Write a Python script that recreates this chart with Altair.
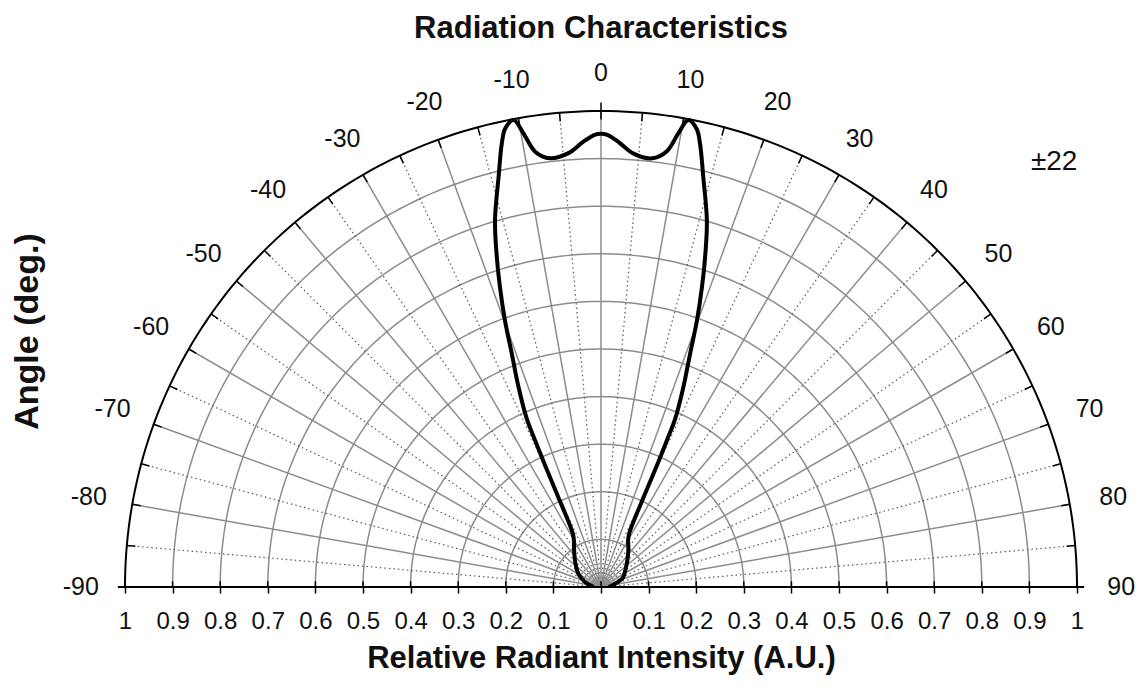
import altair as alt
import pandas as pd
import numpy as np

# ---------------- text ----------------
title_text = "Radiation Characteristics"
x_title = "Relative Radiant Intensity (A.U.)"
y_title = "Angle (deg.)"
note_text = "±22"

# ---------------- curve (angle in degrees, relative intensity) ----------------
curve_angle = [-90, -86, -80, -75.5, -67, -59, -51, -44, -36, -30, -27.7, -25.3, -24.7, -24.2,
               -23.8, -22.4, -20.9, -19.8, -18.6, -17.4, -16.1, -14.0, -12.6, -11.8, -10.6,
               -9.7, -8.6, -6.8, -4.3, -2.3, -0.8, 0,
               0.8, 2.3, 4.3, 6.8, 8.6, 9.7, 10.6, 11.8, 12.6, 14.0, 16.1, 17.4, 18.6, 19.8,
               20.9, 22.4, 23.8, 24.2, 24.7, 25.3, 27.7, 30, 36.4, 44, 51, 59, 67, 75.5, 80, 86, 90]
curve_intensity = [0.018, 0.018, 0.024, 0.031, 0.043, 0.056, 0.067, 0.079, 0.096, 0.114, 0.128, 0.218, 0.282, 0.338,
                   0.387, 0.455, 0.526, 0.596, 0.666, 0.734, 0.803, 0.889, 0.955, 0.984, 0.998,
                   0.967, 0.925, 0.907, 0.914, 0.936, 0.950, 0.952,
                   0.950, 0.935, 0.913, 0.907, 0.926, 0.968, 0.998, 0.983, 0.954, 0.888, 0.802, 0.733, 0.665, 0.595,
                   0.525, 0.454, 0.386, 0.337, 0.282, 0.217, 0.128, 0.114, 0.097, 0.080, 0.068, 0.058, 0.050, 0.034, 0.026, 0.019, 0.018]

# ---------------- grid / axes ----------------
angle_labels = [-90, -80, -70, -60, -50, -40, -30, -20, -10, 0, 10, 20, 30, 40, 50, 60, 70, 80, 90]
major_angles = [-80, -70, -60, -50, -40, -30, -20, -10, 0, 10, 20, 30, 40, 50, 60, 70, 80]
minor_angles = [-85, -75, -65, -55, -45, -35, -25, -15, -5, 5, 15, 25, 35, 45, 55, 65, 75, 85]
arc_tick_angles = [-85, -80, -75, -70, -65, -60, -55, -50, -45, -40, -35, -30, -25, -20, -15, -10, -5,
                   0, 5, 10, 15, 20, 25, 30, 35, 40, 45, 50, 55, 60, 65, 70, 75, 80, 85]
circle_radii = [0.1, 0.2, 0.3, 0.4, 0.5, 0.6, 0.7, 0.8, 0.9]
x_tick_values = [-1.0, -0.9, -0.8, -0.7, -0.6, -0.5, -0.4, -0.3, -0.2, -0.1, 0.0,
                 0.1, 0.2, 0.3, 0.4, 0.5, 0.6, 0.7, 0.8, 0.9, 1.0]

FONT = "Liberation Sans"
TXT = "#111111"

x_axis = alt.Axis(values=x_tick_values, labelExpr="format(abs(datum.value), '.1~f')",
                  title=x_title, domain=False, ticks=True, tickColor="black", tickWidth=1.5,
                  tickSize=6, grid=False, labelFontSize=24, labelFont=FONT, labelColor=TXT,
                  labelPadding=16, labelFlush=False, labelOverlap=False,
                  titleFontSize=31, titleFont=FONT, titleFontWeight="bold", titleColor=TXT,
                  titlePadding=10)
y_axis = alt.Axis(labels=False, ticks=False, domain=False, grid=False, title=y_title,
                  titleFontSize=34, titleFont=FONT, titleFontWeight="bold", titleColor=TXT,
                  titlePadding=81, titleY=220)

xs = alt.Scale(domain=[-1, 1], nice=False, zero=False)
ys = alt.Scale(domain=[0, 1], nice=False, zero=False)


def X(f="x"):
    return alt.X(f"{f}:Q", scale=xs, axis=x_axis)


def Y(f="y"):
    return alt.Y(f"{f}:Q", scale=ys, axis=y_axis)


deg = "PI/180"

# circles
circ_rows = [{"r": r, "a": a} for r in circle_radii for a in range(-90, 91)]
circles = alt.Chart(pd.DataFrame(circ_rows)).transform_calculate(
    x=f"datum.r*sin(datum.a*{deg})", y=f"datum.r*cos(datum.a*{deg})"
).mark_line(color="#8c8c8c", strokeWidth=1.5).encode(
    x=X(), y=Y(), detail="r:N", order="a:Q")

outer = alt.Chart(pd.DataFrame({"a": list(range(-90, 91))})).transform_calculate(
    x=f"sin(datum.a*{deg})", y=f"cos(datum.a*{deg})"
).mark_line(color="black", strokeWidth=2).encode(x=X(), y=Y(), order="a:Q")


def radial(angles, r0, r1, **style):
    return alt.Chart(pd.DataFrame({"a": angles})).transform_calculate(
        x0=f"{r0}*sin(datum.a*{deg})", y0=f"{r0}*cos(datum.a*{deg})",
        x1=f"{r1}*sin(datum.a*{deg})", y1=f"{r1}*cos(datum.a*{deg})"
    ).mark_rule(**style).encode(x=X("x0"), y=Y("y0"), x2="x1:Q", y2="y1:Q")


major = radial(major_angles, 0, 1, color="#8c8c8c", strokeWidth=1.5)
minor = radial(minor_angles, 0, 1, color="#5a5a5a", strokeWidth=1.2, strokeDash=[1.5, 3])
arc_ticks = radial(arc_tick_angles, 0.982, 1, color="black", strokeWidth=1.5)
top_tick = radial([0], 1, 1.018, color="black", strokeWidth=1.5)

baseline = alt.Chart(pd.DataFrame({"x0": [-1.015], "x1": [1.015], "y0": [0]})).mark_rule(
    color="black", strokeWidth=2).encode(x=X("x0"), x2="x1:Q", y=Y("y0"))

up_ticks = alt.Chart(pd.DataFrame({"x": x_tick_values})).transform_calculate(
    y0="0", y1="0.012").mark_rule(color="black", strokeWidth=1.5).encode(
    x=X(), y=Y("y0"), y2="y1:Q")

curve_df = pd.DataFrame({"i": list(range(len(curve_angle))), "a": curve_angle, "v": curve_intensity})
curve = alt.Chart(curve_df).transform_calculate(
    x=f"datum.v*sin(datum.a*{deg})", y=f"datum.v*cos(datum.a*{deg})"
).mark_line(color="black", strokeWidth=4, interpolate="catmull-rom").encode(
    x=X(), y=Y(), order="i:Q")

labels = alt.Chart(pd.DataFrame({"a": angle_labels, "t": [str(a) for a in angle_labels]})).transform_calculate(
    rl=f"1.08 + 0.013*abs(sin(datum.a*{deg}))"
).transform_calculate(
    x=f"datum.rl*sin(datum.a*{deg})", y=f"datum.rl*cos(datum.a*{deg})"
).mark_text(font=FONT, fontSize=25, color=TXT, align="center", baseline="middle").encode(
    x=X(), y=Y(), text="t:N")

note = alt.Chart(pd.DataFrame({"x": [0.952], "y": [0.893], "t": [note_text]})).mark_text(
    font=FONT, fontSize=28, color=TXT, align="center", baseline="middle").encode(
    x=X(), y=Y(), text="t:N")

chart = alt.layer(circles, minor, major, outer, arc_ticks, top_tick, baseline, up_ticks,
                  curve, labels, note).properties(
    width=952, height=476,
    title=alt.TitleParams(text=title_text, fontSize=31, font=FONT, fontWeight="bold",
                          color=TXT, anchor="middle", frame="group", offset=16),
    autosize=alt.AutoSizeParams(type="none"),
    padding={"left": 117, "top": 103, "right": 58, "bottom": 89},
).configure_view(stroke=None)

chart.save("out.html", embed_options={"renderer": "svg", "actions": False})
